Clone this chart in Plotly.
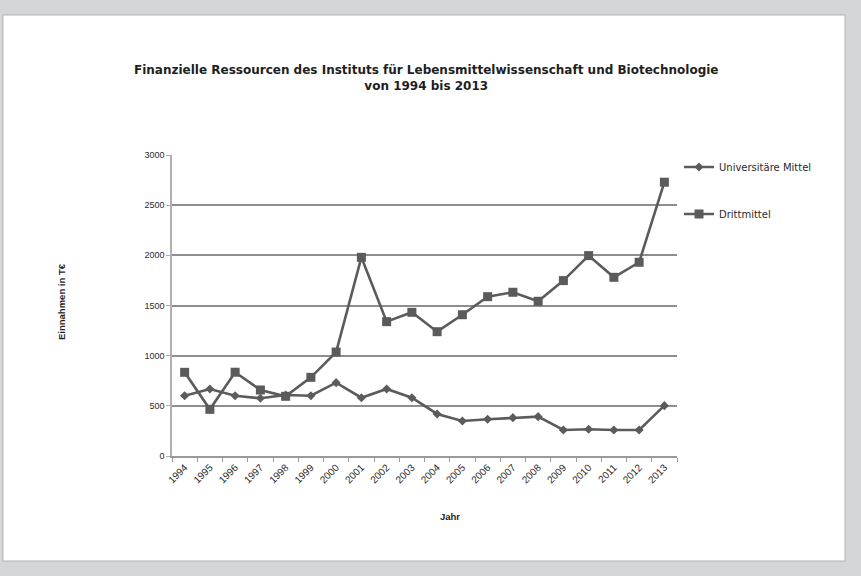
import plotly.graph_objects as go

years = [str(y) for y in range(1994, 2014)]
universitaere_mittel = [601, 668, 601, 575, 608, 601, 731, 581, 668, 581,
                        419, 349, 366, 382, 392, 259, 266, 259, 259, 502]
drittmittel = [834, 465, 835, 658, 595, 784, 1036, 1980, 1339, 1432,
               1239, 1408, 1588, 1632, 1542, 1748, 1997, 1781, 1931, 2729]
y_ticks = [0, 500, 1000, 1500, 2000, 2500, 3000]

title_text = ("<b>Finanzielle Ressourcen des Instituts für Lebensmittelwissenschaft und Biotechnologie"
              "<br>von 1994 bis 2013</b>")

L, R, T, B = 172, 184, 155, 120
W, H = 861, 576
pw, ph = W - L - R, H - T - B

def px(x):
    return (x - L) / pw

def py(y):
    return (H - B - y) / ph

line_col = "#5b5b5b"
font = "Liberation Sans, Arial, sans-serif"
wide = "DejaVu Sans, sans-serif"
bg = "#d5d6d8"

fig = go.Figure()
fig.add_trace(go.Scatter(x=years, y=universitaere_mittel, name="Universitäre Mittel",
                         mode="lines+markers", legend="legend", showlegend=True,
                         line=dict(color=line_col, width=2.6),
                         marker=dict(symbol="diamond", size=7, color=line_col)))
fig.add_trace(go.Scatter(x=years, y=drittmittel, name="Drittmittel",
                         mode="lines+markers", legend="legend2", showlegend=True,
                         line=dict(color=line_col, width=2.6),
                         marker=dict(symbol="square", size=9, color=line_col)))

fig.add_shape(type="rect", xref="paper", yref="paper", layer="below",
              x0=px(3), x1=px(845), y0=py(561), y1=py(15),
              fillcolor="white", line=dict(color="#b4b4b4", width=1))

fig.add_annotation(text=title_text, xref="paper", yref="paper", x=px(426), y=py(78),
                   showarrow=False, font=dict(family=wide, size=12, color="#1e1e1e"),
                   xanchor="center", yanchor="middle")
fig.add_annotation(text="<b>Einnahmen in T€</b>", xref="paper", yref="paper",
                   x=px(61), y=py(302), textangle=-90, showarrow=False,
                   xanchor="center", yanchor="middle",
                   font=dict(family=font, size=9.5, color="#1e1e1e"))
fig.add_annotation(text="<b>Jahr</b>", xref="paper", yref="paper",
                   x=px(450), y=py(524), showarrow=False,
                   font=dict(family=font, size=9.5, color="#1e1e1e"))

fig.update_layout(
    width=W, height=H,
    showlegend=True,
    margin=dict(l=L, r=R, t=T, b=B),
    paper_bgcolor=bg,
    plot_bgcolor="white",
    font=dict(family=font, color="#2a2a2a"),
    legend=dict(x=px(679), y=py(167), xanchor="left", yanchor="middle",
                bgcolor="rgba(0,0,0,0)", itemwidth=30,
                font=dict(family=wide, size=10, color="#2a2a2a")),
    legend2=dict(x=px(679), y=py(214), xanchor="left", yanchor="middle",
                 bgcolor="rgba(0,0,0,0)", itemwidth=30,
                 font=dict(family=wide, size=10, color="#2a2a2a")),
    xaxis=dict(type="category", range=[-0.5, 19.5], tickangle=-45,
               tickson="boundaries", ticks="outside", ticklen=4, tickcolor="#9a9a9a",
               showline=True, linecolor="#9a9a9a", linewidth=1.5,
               showgrid=False, tickfont=dict(family=font, size=10, color="#2a2a2a")),
    yaxis=dict(range=[0, 3000], tickvals=y_ticks, showgrid=True,
               gridcolor="#8e8e8e", gridwidth=2, zeroline=False,
               showline=True, linecolor="#b0b0b0", linewidth=1.5,
               ticks="outside", ticklen=4, tickcolor="#b0b0b0",
               tickfont=dict(family=font, size=9, color="#2a2a2a")),
)

fig.write_html("out.html", config={"displayModeBar": False},
               post_script="document.body.style.margin='0';"
                           "document.body.style.background='%s';"
                           "document.body.style.overflow='hidden';" % bg)
